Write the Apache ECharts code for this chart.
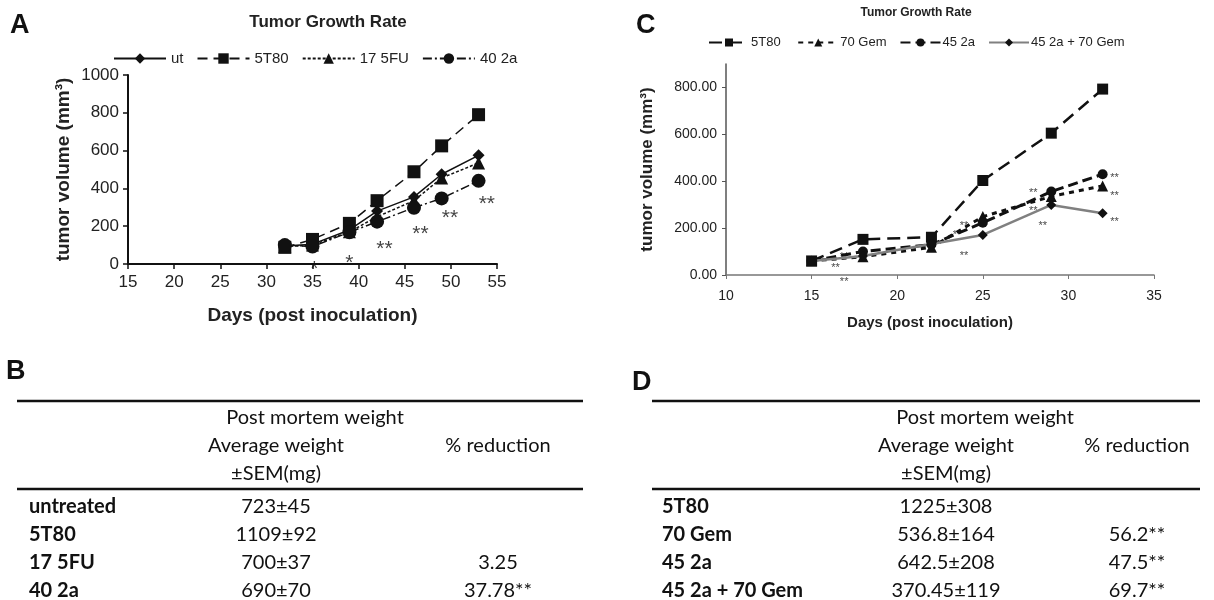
<!DOCTYPE html>
<html><head><meta charset="utf-8">
<script src="https://cdn.jsdelivr.net/npm/echarts@6/dist/echarts.min.js"></script>
<style>html,body{margin:0;padding:0;background:#fff}#c{width:1214px;height:600px}</style>
</head><body><div id="c"></div>
<script>
// ---- Panel A data ----
const daysA = [32, 35, 39, 42, 46, 49, 53];
const utA = [95, 105, 180, 280, 355, 475, 575];
const t80A = [88, 130, 215, 335, 488, 625, 790];
const fuA = [92, 100, 170, 250, 335, 455, 535];
const a2A = [100, 92, 168, 224, 298, 347, 440];
const starPosA = [[35.2, -30], [39, 5], [42.8, 80], [46.7, 160], [49.9, 240], [53.9, 315]];
const starTextA = ['*', '*', '**', '**', '**', '**'];
const xTicksA = [15, 20, 25, 30, 35, 40, 45, 50, 55];
const yTicksA = [0, 200, 400, 600, 800, 1000];

// ---- Panel C data ----
const daysC = [15, 18, 22, 25, 29, 32];
const t80C = [60, 152, 161, 403, 605, 793];
const gemC = [60, 78, 118, 249, 335, 380];
const a2C = [60, 100, 130, 223, 356, 430];
const comboC = [60, 81, 132, 171, 299, 263];
const starPosC = [[16.4, 30], [16.9, -30], [16.9, 78], [23.9, 80], [23.9, 208], [23.5, 170], [27.95, 352], [27.95, 272], [28.5, 208], [32.7, 414], [32.7, 336], [32.7, 228]];
const xTicksC = [10, 15, 20, 25, 30, 35];
const yTicksC = [0, 200, 400, 600, 800];

// ---- Tables ----
const rowsB = ['untreated', '5T80', '17 5FU', '40 2a'];
const weightB = ['723±45', '1109±92', '700±37', '690±70'];
const reductionB = ['', '', '3.25', '37.78**'];
const rowsD = ['5T80', '70 Gem', '45 2a', '45 2a + 70 Gem'];
const weightD = ['1225±308', '536.8±164', '642.5±208', '370.45±119'];
const reductionD = ['', '56.2**', '47.5**', '69.7**'];
const headerTop = 'Post mortem weight';
const headerAvg = 'Average weight';
const headerSem = '±SEM(mg)';
const headerRed = '% reduction';

const AR = '"Liberation Sans", Arial, sans-serif';
const CAL = 'Lato, "Open Sans", sans-serif';

function pairs(xs, ys) { return xs.map((x, i) => [x, ys[i]]); }

const chart = echarts.init(document.getElementById('c'));

function lineSeries(name, xi, yi, data, symbol, size, type, color, width) {
  return {
    name, type: 'line', xAxisIndex: xi, yAxisIndex: yi, data,
    symbol, symbolSize: size, showSymbol: true,
    lineStyle: { color, width, type },
    itemStyle: { color: '#111', borderWidth: 0 },
    emphasis: { disabled: true }, animation: false, z: 3
  };
}
function starSeries(xi, yi, pos, texts, fontSize) {
  return {
    type: 'scatter', xAxisIndex: xi, yAxisIndex: yi, symbolSize: 1, clip: false,
    itemStyle: { color: 'rgba(0,0,0,0)' }, animation: false, silent: true,
    data: pos.map((p, i) => ({ value: p, label: { formatter: texts[i] } })),
    label: { show: true, position: 'inside', color: '#111', fontSize, fontFamily: AR },
    z: 4
  };
}

const graphics = [];
function txt(text, x, y, font, align, fill) {
  graphics.push({ type: 'text', silent: true, style: { text, x, y, font, textAlign: align || 'left', textVerticalAlign: 'middle', fill: fill || '#111' } });
}
function hline(x1, x2, y) {
  graphics.push({ type: 'line', silent: true, shape: { x1, y1: y, x2, y2: y }, style: { stroke: '#111', lineWidth: 2.5 } });
}
// panel letters
txt('A', 10, 26, `bold 27px ${AR}`);
txt('C', 636, 26, `bold 27px ${AR}`);
txt('B', 6, 372, `bold 27px ${AR}`);
txt('D', 632, 383, `bold 27px ${AR}`);

function table(x0, x1, rowX, cMid, cW, cR, top, rows, weights, reds) {
  const F = `20px ${CAL}`;
  hline(x0, x1, top);
  txt(headerTop, cMid, top + 17, F, 'center');
  txt(headerAvg, cW, top + 45, F, 'center');
  txt(headerRed, cR, top + 45, F, 'center');
  txt(headerSem, cW, top + 73, F, 'center');
  hline(x0, x1, top + 88);
  rows.forEach((r, i) => {
    const y = top + 106 + i * 28;
    txt(r, rowX, y, `bold 20px ${CAL}`, 'left');
    txt(weights[i], cW, y, F, 'center');
    if (reds[i]) txt(reds[i], cR, y, F, 'center');
  });
}
table(17, 583, 29, 315, 276, 498, 401, rowsB, weightB, reductionB);
table(652, 1200, 662, 985, 946, 1137, 401, rowsD, weightD, reductionD);

const option = {
  animation: false,
  backgroundColor: '#fff',
  title: [
    { text: 'Tumor Growth Rate', left: 328, top: 14, padding: 0, textAlign: 'center', textStyle: { fontFamily: AR, fontSize: 17, fontWeight: 'bold', color: '#222' } },
    { text: 'Tumor Growth Rate', left: 916, top: 7, padding: 0, textAlign: 'center', textStyle: { fontFamily: AR, fontSize: 12, fontWeight: 'bold', color: '#222' } }
  ],
  legend: [
    { data: ['ut', '5T80', '17 5FU', '40 2a'], left: 113, top: 51, padding: 0, itemWidth: 52, itemHeight: 13, itemGap: 13,
      textStyle: { fontFamily: AR, fontSize: 15, color: '#222' }, selectedMode: false },
    { data: ['5T80 ', '70 Gem', '45 2a', '45 2a + 70 Gem'], left: 708, top: 36, padding: 0, itemWidth: 40, itemHeight: 10, itemGap: 13,
      textStyle: { fontFamily: AR, fontSize: 13, color: '#222', padding: [0, 0, 0, -3] }, selectedMode: false }
  ],
  grid: [
    { left: 128, width: 369, top: 75, height: 189 },
    { left: 726, width: 428, top: 64, height: 211 }
  ],
  xAxis: [
    { gridIndex: 0, type: 'value', min: 15, max: 55, interval: 5, splitLine: { show: false },
      axisLine: { lineStyle: { color: '#111', width: 2 } }, axisTick: { length: 5, lineStyle: { color: '#111', width: 1.5 } },
      axisLabel: { fontFamily: AR, fontSize: 17, color: '#222', margin: 10 },
      name: 'Days (post inoculation)', nameLocation: 'middle', nameGap: 42,
      nameTextStyle: { fontFamily: AR, fontSize: 19, fontWeight: 'bold', color: '#222' } },
    { gridIndex: 1, type: 'value', min: 10, max: 35, interval: 5, splitLine: { show: false },
      axisLine: { lineStyle: { color: '#777', width: 1.5 } }, axisTick: { length: 4, lineStyle: { color: '#777' } },
      axisLabel: { fontFamily: AR, fontSize: 14, color: '#222', margin: 14 },
      name: 'Days (post inoculation)', nameLocation: 'middle', nameGap: 40,
      nameTextStyle: { fontFamily: AR, fontSize: 15, fontWeight: 'bold', color: '#222', padding: [0, 20, 0, 0] } }
  ],
  yAxis: [
    { gridIndex: 0, type: 'value', min: 0, max: 1000, interval: 200, splitLine: { show: false },
      axisLine: { show: true, lineStyle: { color: '#111', width: 2 } }, axisTick: { show: true, length: 5, lineStyle: { color: '#111', width: 1.5 } },
      axisLabel: { fontFamily: AR, fontSize: 17, color: '#222', margin: 9, formatter: v => String(v) },
      name: 'tumor volume (mm³)', nameLocation: 'middle', nameGap: 55,
      nameTextStyle: { fontFamily: AR, fontSize: 19, fontWeight: 'bold', color: '#222' } },
    { gridIndex: 1, type: 'value', min: 0, max: 900, splitLine: { show: false },
      axisLine: { show: true, lineStyle: { color: '#555', width: 1.5 } },
      axisTick: { show: true, length: 4, customValues: yTicksC, lineStyle: { color: '#555' } },
      axisLabel: { fontFamily: AR, fontSize: 14, color: '#222', margin: 9, customValues: yTicksC, formatter: v => v.toFixed(2) },
      name: 'tumor volume (mm³)', nameLocation: 'middle', nameGap: 70,
      nameTextStyle: { fontFamily: AR, fontSize: 17, fontWeight: 'bold', color: '#222' } }
  ],
  graphic: graphics,
  series: [
    lineSeries('ut', 0, 0, pairs(daysA, utA), 'diamond', 12, 'solid', '#111', 1.5),
    lineSeries('5T80', 0, 0, pairs(daysA, t80A), 'rect', 13, [10, 6], '#111', 1.5),
    lineSeries('17 5FU', 0, 0, pairs(daysA, fuA), 'triangle', 13, [3, 2], '#111', 1.5),
    lineSeries('40 2a', 0, 0, pairs(daysA, a2A), 'circle', 14, [9, 3, 2, 3], '#111', 1.5),
    starSeries(0, 0, starPosA, starTextA, 21),
    lineSeries('5T80 ', 1, 1, pairs(daysC, t80C), 'rect', 11, [13, 7], '#111', 2.5),
    lineSeries('70 Gem', 1, 1, pairs(daysC, gemC), 'triangle', 11, [5, 5], '#111', 3),
    lineSeries('45 2a', 1, 1, pairs(daysC, a2C), 'circle', 10, [10, 5], '#111', 3),
    lineSeries('45 2a + 70 Gem', 1, 1, pairs(daysC, comboC), 'diamond', 10, 'solid', '#808080', 2.5),
    starSeries(1, 1, starPosC, starPosC.map(() => '**'), 11)
  ]
};
chart.setOption(option);
</script>
</body></html>
